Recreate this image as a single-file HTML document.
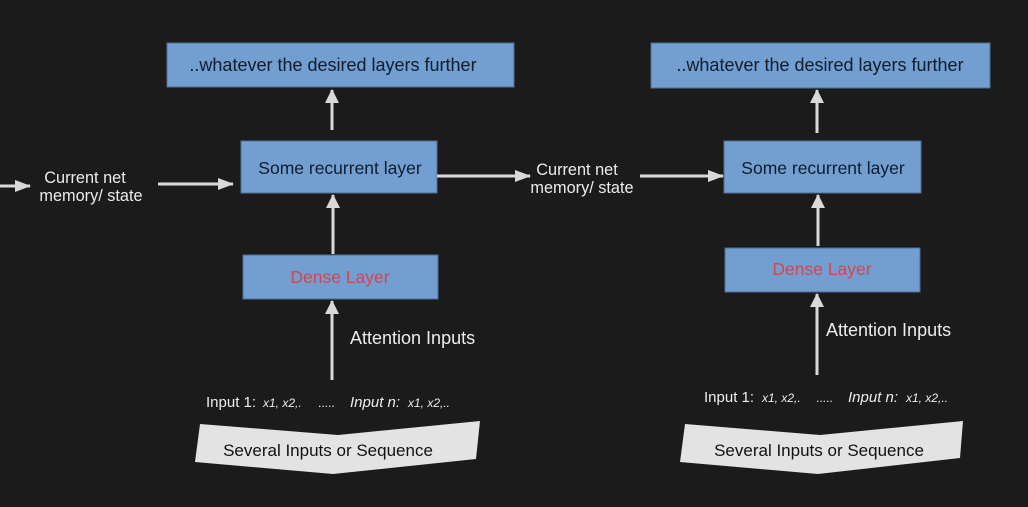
<!DOCTYPE html>
<html><head><meta charset="utf-8"><style>
html,body{margin:0;padding:0;background:#1b1b1b;}
svg{display:block;}
text{font-family:"Liberation Sans",sans-serif;}
</style></head><body>
<svg width="1028" height="507" viewBox="0 0 1028 507" xmlns="http://www.w3.org/2000/svg">
<defs>
<marker id="ah" markerWidth="16" markerHeight="12" refX="15" refY="6" orient="auto" markerUnits="userSpaceOnUse">
<path d="M0,0 L16,6 L0,12 z" fill="#d9d9d9"/>
</marker>
<marker id="av" markerWidth="14" markerHeight="14" refX="13" refY="7" orient="auto" markerUnits="userSpaceOnUse">
<path d="M0,0 L14,7 L0,14 z" fill="#d9d9d9"/>
</marker>
</defs>
<rect width="1028" height="507" fill="#1b1b1b"/>
<g fill="#729fcf" stroke="#4d6f96" stroke-width="1">
<rect x="167" y="43" width="347" height="44"/>
<rect x="241" y="141" width="196" height="52"/>
<rect x="243" y="255" width="195" height="44"/>
<rect x="651" y="43" width="339" height="45"/>
<rect x="724" y="141" width="197" height="52"/>
<rect x="725" y="248" width="195" height="44"/>
</g>
<g fill="#0f1c30" text-anchor="middle">
<text x="333" y="71" font-size="18">..whatever the desired layers further</text>
<text x="340" y="174" font-size="17.5">Some recurrent layer</text>
<text x="820" y="71" font-size="18">..whatever the desired layers further</text>
<text x="823" y="174" font-size="17.5">Some recurrent layer</text>
</g>
<g font-size="17.5" fill="#d8434f" text-anchor="middle">
<text x="340" y="283">Dense Layer</text>
<text x="822" y="275">Dense Layer</text>
</g>
<g stroke="#d9d9d9" stroke-width="3" fill="none">
<line x1="0" y1="186" x2="30" y2="186" marker-end="url(#ah)"/>
<line x1="158" y1="184" x2="233" y2="184" marker-end="url(#ah)"/>
<line x1="437" y1="176" x2="530" y2="176" marker-end="url(#ah)"/>
<line x1="640" y1="176" x2="723" y2="176" marker-end="url(#ah)"/>
<line x1="332" y1="130" x2="332" y2="90" marker-end="url(#av)"/>
<line x1="333" y1="254" x2="333" y2="195" marker-end="url(#av)"/>
<line x1="332" y1="380" x2="332" y2="301" marker-end="url(#av)"/>
<line x1="817" y1="133" x2="817" y2="90" marker-end="url(#av)"/>
<line x1="818" y1="246" x2="818" y2="195" marker-end="url(#av)"/>
<line x1="817" y1="375" x2="817" y2="294" marker-end="url(#av)"/>
</g>
<g font-size="16.3" fill="#ececec" text-anchor="middle">
<text x="85" y="183">Current net</text>
<text x="91" y="201">memory/ state</text>
<text x="577" y="175">Current net</text>
<text x="582" y="193">memory/ state</text>
</g>
<g font-size="18" fill="#ececec">
<text x="350" y="344">Attention Inputs</text>
<text x="826" y="336">Attention Inputs</text>
</g>
<g font-size="15" fill="#ececec">
<text x="206" y="407">Input 1:</text>
<text x="263" y="407" font-size="12" font-style="italic">x1, x2,.</text>
<text x="318" y="407" font-size="12">.....</text>
<text x="350" y="407" font-style="italic">Input n:</text>
<text x="408" y="407" font-size="12" font-style="italic">x1, x2,..</text>
<text x="704" y="402">Input 1:</text>
<text x="762" y="402" font-size="12" font-style="italic">x1, x2,.</text>
<text x="816" y="402" font-size="12">.....</text>
<text x="848" y="402" font-style="italic">Input n:</text>
<text x="906" y="402" font-size="12" font-style="italic">x1, x2,..</text>
</g>
<g fill="#e3e3e3">
<polygon points="200,424 338,435 480,421 476,459 333,474 195,462"/>
<polygon points="685,424 820,435 963,421 960,458 818,474 680,462"/>
</g>
<g font-size="17" fill="#111" text-anchor="middle">
<text x="328" y="456">Several Inputs or Sequence</text>
<text x="819" y="456">Several Inputs or Sequence</text>
</g>
</svg>
</body></html>
